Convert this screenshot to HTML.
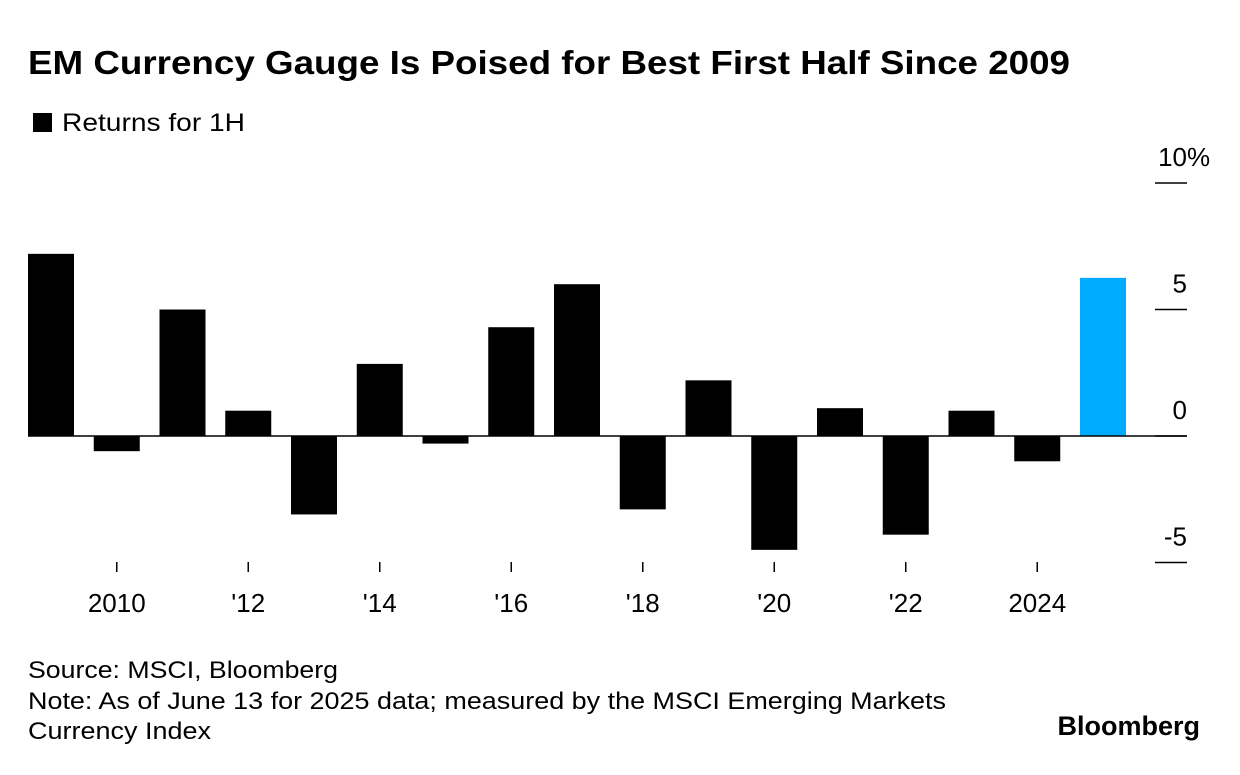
<!DOCTYPE html>
<html><head><meta charset="utf-8"><style>
body{margin:0;background:#fff;font-family:"Liberation Sans",Arial,sans-serif;}
svg text{font-family:"Liberation Sans",Arial,sans-serif;}
</style></head><body>
<svg width="1240" height="770" viewBox="0 0 1240 770" xmlns="http://www.w3.org/2000/svg">
<text x="28" y="74" font-size="33" font-weight="bold" fill="#000" textLength="1042" lengthAdjust="spacingAndGlyphs">EM Currency Gauge Is Poised for Best First Half Since 2009</text>
<rect x="33" y="113" width="19" height="19" fill="#000"/>
<text x="62" y="131" font-size="25" fill="#000" textLength="183" lengthAdjust="spacingAndGlyphs">Returns for 1H</text>
<g id="plot"></g>
<text x="1187" y="166" font-size="26" fill="#000">%</text>
<text x="28" y="678" font-size="24" fill="#000" textLength="310" lengthAdjust="spacingAndGlyphs">Source: MSCI, Bloomberg</text>
<text x="28" y="709" font-size="24" fill="#000" textLength="918" lengthAdjust="spacingAndGlyphs">Note: As of June 13 for 2025 data; measured by the MSCI Emerging Markets</text>
<text x="28" y="739" font-size="24" fill="#000" textLength="183" lengthAdjust="spacingAndGlyphs">Currency Index</text>
<text x="1200" y="735" font-size="27" font-weight="bold" text-anchor="end" fill="#000">Bloomberg</text>
</svg>
<script>
const years=[2009,2010,2011,2012,2013,2014,2015,2016,2017,2018,2019,2020,2021,2022,2023,2024,2025];
const values=[7.2,-0.6,5.0,1.0,-3.1,2.85,-0.3,4.3,6.0,-2.9,2.2,-4.5,1.1,-3.9,1.0,-1.0,6.25];
const yTicks=[10,5,0,-5];
const yTickLabels=["10","5","0","-5"];
const xTickYears=[2010,2012,2014,2016,2018,2020,2022,2024];
const xTickLabels=["2010","'12","'14","'16","'18","'20","'22","2024"];
const NS="http://www.w3.org/2000/svg";
const g=document.getElementById('plot');
const y=v=>436-v*25.3;
const x=yr=>51+(yr-2009)*65.75;
const bw=46;
function mk(tag,attrs){const e=document.createElementNS(NS,tag);for(const k in attrs)e.setAttribute(k,attrs[k]);g.appendChild(e);return e;}
years.forEach((yr,i)=>{const v=values[i];
 const r=mk('rect',{x:x(yr)-bw/2,y:Math.min(y(v),y(0)),width:bw,height:Math.abs(y(v)-y(0)),fill:yr===2025?'#00aaff':'#000'});
 
 });
const zl=mk('line',{x1:28,x2:1187,y1:y(0),y2:y(0),stroke:'#000','stroke-width':1.5});


yTicks.forEach((t,i)=>{
 const l=mk('line',{x1:1155,x2:1187,y1:y(t),y2:y(t),stroke:'#000','stroke-width':1.5});
 
 
 const tx=mk('text',{x:1187,y:y(t)-17,'font-size':26,'text-anchor':'end',fill:'#000'});
 tx.textContent=yTickLabels[i];
 
 });
xTickYears.forEach((yr,i)=>{
 const l=mk('line',{x1:x(yr),x2:x(yr),y1:562,y2:572,stroke:'#000','stroke-width':1.5});
 
 
 const tx=mk('text',{x:x(yr),y:612,'font-size':26,'text-anchor':'middle',fill:'#000'});
 tx.textContent=xTickLabels[i];
 
 });
</script>
</body></html>
